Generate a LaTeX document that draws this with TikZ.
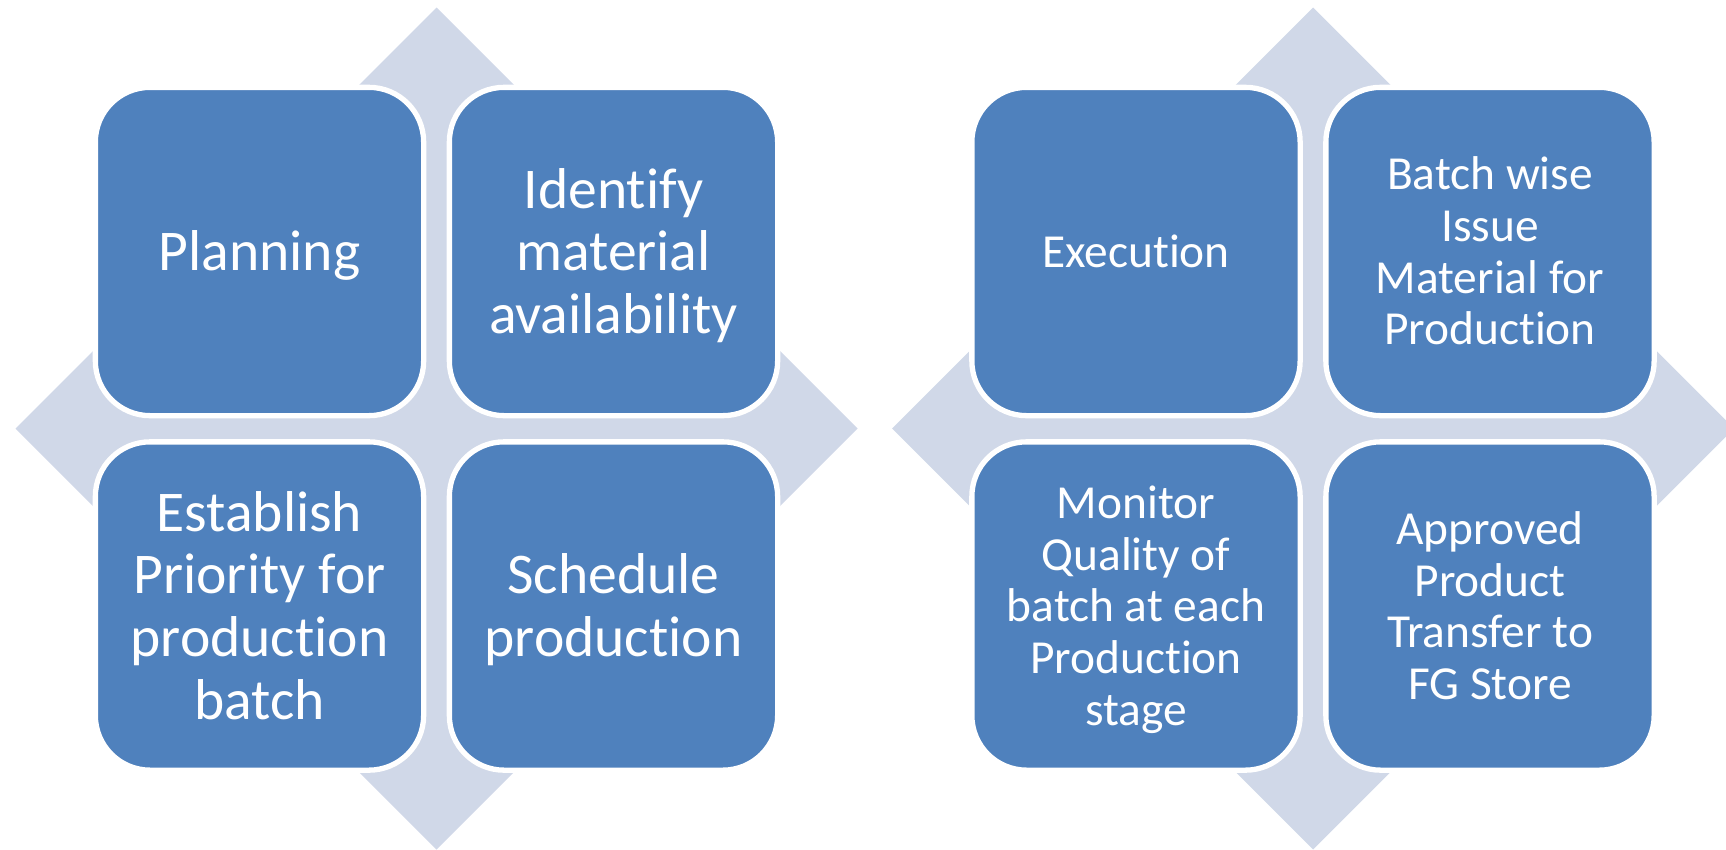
\documentclass[tikz,border=0pt]{standalone}
\usepackage{fontspec}
\setmainfont{Carlito}[Ligatures=NoCommon]
\definecolor{boxblue}{HTML}{4F81BD}
\definecolor{diamondbg}{HTML}{D0D8E8}
\newcommand\sk{\rule[-0.2em]{0pt}{1.0667em}}
\begin{document}
\begin{tikzpicture}[x=1pt,y=-1pt,
  cell/.style={rectangle, rounded corners=54.7pt, fill=boxblue, draw=white,
    line width=5.3pt, minimum width=328.3pt, minimum height=328.3pt,
    inner sep=0pt, text=white, align=center},
  big/.style={cell, font=\fontsize{57.6}{62.6}\selectfont},
  small/.style={cell, font=\fontsize{47.4}{51.6}\selectfont},
  bg/.style={fill=diamondbg}]
\useasboundingbox (0,0) rectangle (1726,849);
\begin{scope}
\clip (0,0) rectangle (1726,849);
\fill[bg] (436.5,7.5) -- (857.5,428.5) -- (436.5,849.5) -- (15.5,428.5) -- cycle;
\fill[bg] (1313,7.5) -- (1734,428.5) -- (1313,849.5) -- (892,428.5) -- cycle;
\end{scope}
% left matrix
\node[big] (plan) at (259.5,251.5) {\sk Planning};
\node[big] (ident) at (613.5,251.5) {\sk Identify\\\sk material\\\sk availability};
\node[big] (estab) at (259.5,606) {\sk Establish\\\sk Priority for\\\sk production\\\sk batch};
\node[big] (sched) at (613.5,606) {\sk Schedule\\\sk production};
% right matrix
\node[small] (exec) at (1136,251.5) {\sk Execution};
\node[small] (issue) at (1490,251.5) {\sk Batch wise\\\sk Issue\\\sk Material for\\\sk Production};
\node[small] (monit) at (1136,606) {\sk Monitor\\\sk Quality of\\\sk batch at each\\\sk Production\\\sk stage};
\node[small] (trans) at (1490,606) {\sk Approved\\\sk Product\\\sk Transfer to\\\sk FG Store};
\end{tikzpicture}
\end{document}
